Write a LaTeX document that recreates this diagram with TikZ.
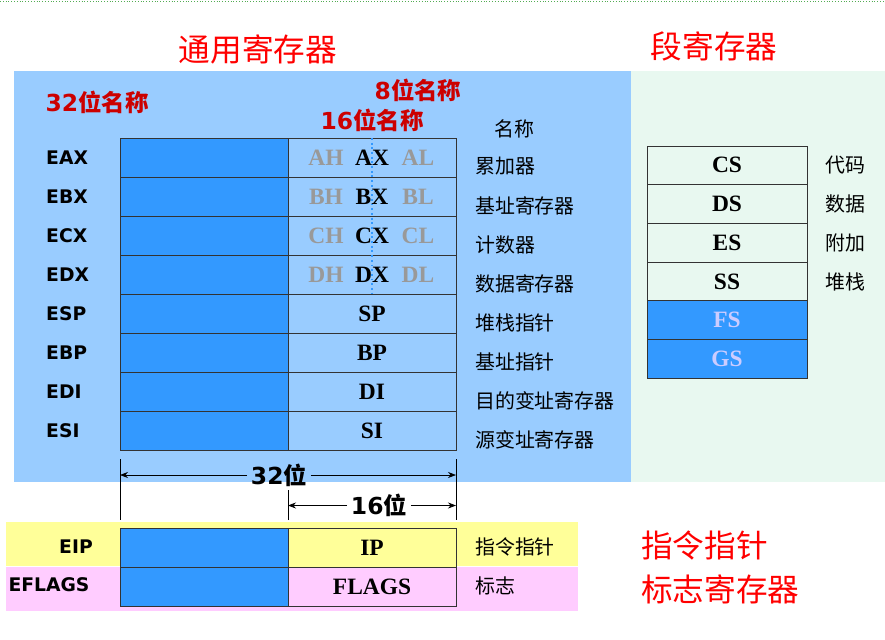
\documentclass[tikz,border=0pt]{standalone}
\usepackage{fontspec}
\setmainfont{Liberation Serif}
\setsansfont{DejaVu Sans}
\newfontfamily\cjk{Noto Sans CJK SC}
\usepackage{xcolor}
\usetikzlibrary{arrows.meta,positioning}
\definecolor{gpbg}{HTML}{99CCFF}
\definecolor{hiblue}{HTML}{3399FF}
\definecolor{segbg}{HTML}{E8F8F0}
\definecolor{ipbg}{HTML}{FFFF99}
\definecolor{flbg}{HTML}{FFCCFF}
\definecolor{titlered}{HTML}{FF0000}
\definecolor{bitred}{HTML}{CC0000}
\definecolor{halfgray}{HTML}{999999}
\definecolor{segtext}{HTML}{CCCCFF}

\begin{document}
\begin{tikzpicture}[x=0.03cm,y=-0.03cm,>={Stealth[length=2.4mm,width=1.8mm]},
  hicell/.style={draw=black!80,line width=0.8pt,fill=hiblue,minimum width=5.04cm,minimum height=1.17cm,inner sep=0pt,outer sep=0pt,anchor=north west},
  locell/.style={hicell,fill=gpbg,anchor=west,font=\bfseries\fontsize{20}{20}\selectfont},
  segcell/.style={hicell,fill=segbg,minimum width=4.8cm,minimum height=1.161cm,font=\bfseries\fontsize{20}{20}\selectfont},
  fscell/.style={segcell,fill=hiblue,text=segtext},
  regname/.style={font=\sffamily\bfseries\fontsize{16}{16}\selectfont,inner sep=0pt},
  halfname/.style={font=\bfseries\fontsize{20}{20}\selectfont,text=halfgray,inner sep=0pt},
  desc/.style={font=\cjk\fontsize{17}{17}\selectfont,anchor=west,inner sep=0pt},
  bigtitle/.style={font=\cjk\fontsize{27}{27}\selectfont,text=titlered,inner sep=0pt},
  bitname/.style={font=\sffamily\bfseries\fontsize{20}{20}\selectfont,text=bitred,inner sep=0pt},
  dimlabel/.style={font=\sffamily\bfseries\fontsize{20}{20}\selectfont,inner xsep=3pt,inner ysep=0pt},
  dimline/.style={line width=0.6pt}]
\useasboundingbox (0,0) rectangle (885,640);
\draw[dotted,green!35!gray] (0,1.5) -- (885,1.5);
% backgrounds
\fill[gpbg] (14,71) rectangle (631,482);
\fill[segbg] (631,71) rectangle (885,482);
\fill[ipbg] (6,522) rectangle (578,566);
\fill[flbg] (6,567) rectangle (578,611);
% titles
\node[bigtitle] (gptitle) at (258,49) {通用寄存器};
\node[bigtitle] (segtitle) at (714,46) {段寄存器};
\node[bigtitle,anchor=west] (iptitle) at (641,545) {指令指针};
\node[bigtitle,anchor=west] (fltitle) at (641,589) {标志寄存器};
\node[bitname] (n32) at (97,102) {32{\cjk 位名称}};
\node[bitname] (n8) at (418,90) {8{\cjk 位名称}};
\node[bitname] (n16) at (372,120) {16{\cjk 位名称}};
\node[desc,anchor=center] (namehead) at (514,129) {名称};
% general registers
\foreach \r/\x/\d [count=\i from 0] in {EAX/AX/累加器,EBX/BX/基址寄存器,ECX/CX/计数器,EDX/DX/数据寄存器,ESP/SP/堆栈指针,EBP/BP/基址指针,EDI/DI/目的变址寄存器,ESI/SI/源变址寄存器}{
  \node[hicell] (h\i) at (120,{138+39*\i}) {};
  \node[locell,right=0pt of h\i] (l\i) {\x};
  \node[regname,anchor=west] (r\i) at (46,{157.5+39*\i}) {\r};
  \node[desc] (d\i) at (475,{166.5+39*\i}) {\d};
}
\foreach \p [count=\i from 0] in {A,B,C,D}{
  \node[halfname] (hh\i) at (326,{157.5+39*\i}) {\p H};
  \node[halfname] (hl\i) at (418,{157.5+39*\i}) {\p L};
}
\coordinate (dtop) at (372,138);
\draw[hiblue,line width=1.6pt,dash pattern=on 1.6pt off 2.4pt] (dtop) -- (dtop |- l3.south);
% segment registers
\foreach \s/\d/\st [count=\i from 0] in {CS/代码/segcell,DS/数据/segcell,ES/附加/segcell,SS/堆栈/segcell,FS//fscell,GS//fscell}{
  \node[\st] (s\i) at (647,{146+38.7*\i}) {\s};
  \node[desc] (sd\i) at (825,{165.35+38.7*\i}) {\d};
}
% EIP and EFLAGS
\node[hicell] (eiph) at (120,528) {};
\node[locell,fill=ipbg,right=0pt of eiph] (eipl) {IP};
\node[hicell] (flh) at (120,567) {};
\node[locell,fill=flbg,right=0pt of flh] (fll) {FLAGS};
\node[regname] (eipn) at (76,547) {EIP};
\node[regname] (fln) at (49,585) {EFLAGS};
\node[desc] (eipd) at (475,547) {指令指针};
\node[desc] (fld) at (475,586) {标志};
% widths
\draw[dimline,shorten <=0.27cm,shorten >=0.24cm] (h7.south west) -- (eiph.north west);
\draw[dimline,shorten <=0.27cm,shorten >=0.24cm] (l7.south east) -- (eipl.north east);
\draw[dimline,shorten <=0.24cm] (eipl.north west) -- ++(0,-38);
\coordinate (a32l) at (120,475);
\coordinate (a32r) at (456,475);
\coordinate (a16l) at (288,505.5);
\coordinate (a16r) at (456,505.5);
\node[dimlabel] (w32) at (279,475) {32{\cjk 位}};
\node[dimlabel] (w16) at (379,505.5) {16{\cjk 位}};
\draw[dimline,->] (w32.west |- a32l) -- (a32l);
\draw[dimline,->] (w32.east |- a32r) -- (a32r);
\draw[dimline,->] (w16.west |- a16l) -- (a16l);
\draw[dimline,->] (w16.east |- a16r) -- (a16r);
\end{tikzpicture}
\end{document}
